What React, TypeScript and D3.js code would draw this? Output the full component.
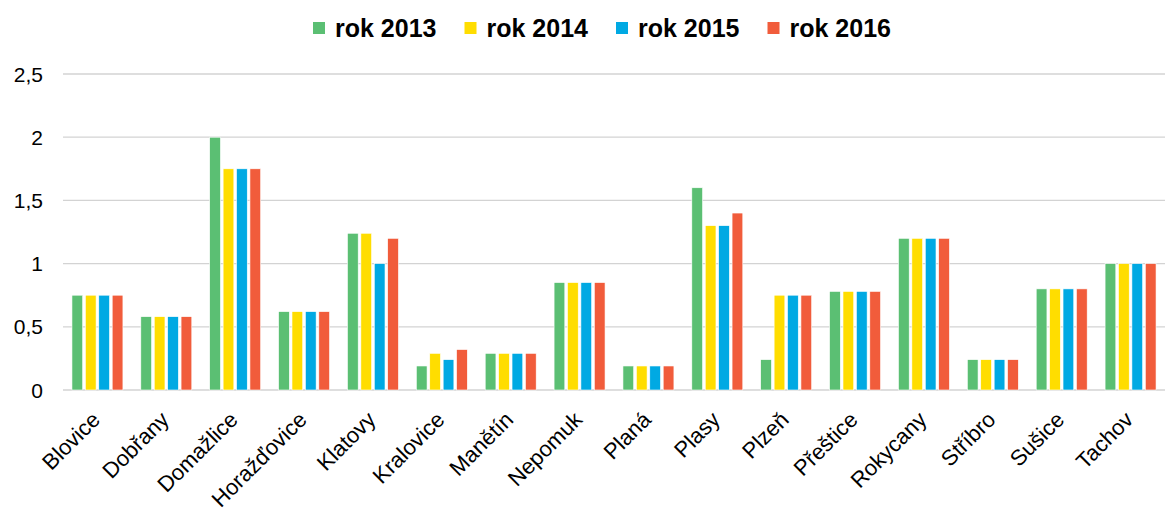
import React from "react";
import * as d3 from "d3";

const towns = [
  "Blovice", "Dobřany", "Domažlice", "Horažďovice", "Klatovy", "Kralovice",
  "Manětín", "Nepomuk", "Planá", "Plasy", "Plzeň", "Přeštice", "Rokycany",
  "Stříbro", "Sušice", "Tachov",
];
const years = ["rok 2013", "rok 2014", "rok 2015", "rok 2016"];
const colors = ["#5bbf73", "#ffdd00", "#00a9e3", "#f15c3b"];

const rok2013 = [0.75, 0.58, 2.0, 0.62, 1.24, 0.19, 0.29, 0.85, 0.19, 1.6, 0.24, 0.78, 1.2, 0.24, 0.8, 1.0];
const rok2014 = [0.75, 0.58, 1.75, 0.62, 1.24, 0.29, 0.29, 0.85, 0.19, 1.3, 0.75, 0.78, 1.2, 0.24, 0.8, 1.0];
const rok2015 = [0.75, 0.58, 1.75, 0.62, 1.0, 0.24, 0.29, 0.85, 0.19, 1.3, 0.75, 0.78, 1.2, 0.24, 0.8, 1.0];
const rok2016 = [0.75, 0.58, 1.75, 0.62, 1.2, 0.32, 0.29, 0.85, 0.19, 1.4, 0.75, 0.78, 1.2, 0.24, 0.8, 1.0];
const series = [rok2013, rok2014, rok2015, rok2016];
const yTicks = [0, 0.5, 1, 1.5, 2, 2.5];

const W = 1168;
const H = 512;
const left = 63;
const right = 1165;
const top = 74;
const bottom = 390;
const font = "Arial, 'Liberation Sans', sans-serif";

const App = () => {
  const x = d3.scaleBand().domain(towns).range([left, right]).paddingInner(0.26).paddingOuter(0.13);
  const xi = d3.scaleBand().domain(years).range([0, x.bandwidth()]).paddingInner(0.2);
  const y = d3.scaleLinear().domain([0, 2.5]).range([bottom, top]);
  const fmt = (v: number) => String(v).replace(".", ",");

  // legend entries sit on an even step
  const legend = d3.scaleLinear().domain([0, 1]).range([313, 464.5]);

  return (
    <svg width={W} height={H} style={{ position: "absolute", left: 0, top: 0, background: "#fff" }}>
      {yTicks.map((t) => (
        <g key={t}>
          <line x1={left} x2={right} y1={y(t)} y2={y(t)} stroke="#d3d3d3" strokeWidth={1.3} />
          <text x={43} y={y(t)} dy="0.36em" textAnchor="end" fontFamily={font} fontSize={21} fill="#000">
            {fmt(t)}
          </text>
        </g>
      ))}
      {series.map((vals, s) => (
        <g key={s} fill={colors[s]}>
          {vals.map((v, i) => (
            <rect
              key={i}
              x={(x(towns[i]) as number) + (xi(years[s]) as number)}
              y={y(v)}
              width={xi.bandwidth()}
              height={bottom - y(v)}
              stroke="#fff"
              strokeWidth={0.6}
            />
          ))}
        </g>
      ))}
      {towns.map((t) => {
        const cx = (x(t) as number) + x.bandwidth() / 2 + 4;
        return (
          <text
            key={t}
            transform={`translate(${cx},${421}) rotate(-45)`}
            textAnchor="end"
            fontFamily={font}
            fontSize={22}
            fill="#000"
          >
            {t}
          </text>
        );
      })}
      {years.map((yr, i) => (
        <g key={yr} transform={`translate(${legend(i)},0)`}>
          <rect x={0} y={22} width={12} height={12} fill={colors[i]} />
          <text x={22} y={37} fontFamily={font} fontWeight="bold" fontSize={25} fill="#000">
            {yr}
          </text>
        </g>
      ))}
    </svg>
  );
};

export default App;
